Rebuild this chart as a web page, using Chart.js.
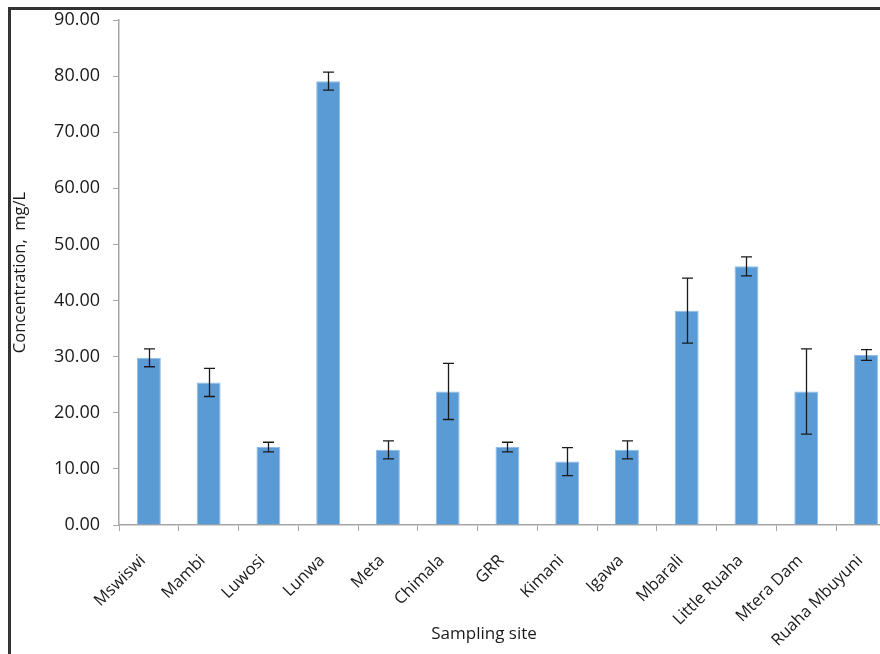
<!DOCTYPE html>
<html>
<head>
<meta charset="utf-8">
<script src="https://cdn.jsdelivr.net/npm/chart.js@4.4.0/dist/chart.umd.min.js"></script>
<style>
  body { margin: 0; background: #fff; overflow: hidden; }
  #wrap { position: absolute; left: 0; top: 0; width: 900px; height: 654px; }
  #frame { position: absolute; left: 8px; top: 7px; width: 1000px; height: 1000px;
           border-left: 3px solid #333; border-top: 3px solid #333; pointer-events: none; }
</style>
</head>
<body>
<div id="wrap"><canvas id="myChart" width="900" height="654"></canvas></div>
<div id="frame"></div>
<script>
// sampling sites and mean concentration (mg/L) with +/- error
const sites = ["Mswiswi", "Mambi", "Luwosi", "Lunwa", "Meta", "Chimala", "GRR", "Kimani",
  "Igawa", "Mbarali", "Little Ruaha", "Mtera Dam", "Ruaha Mbuyuni"];
const concentration = [29.8, 25.4, 13.9, 79.1, 13.4, 23.8, 13.9, 11.3, 13.4, 38.2, 46.1, 23.8, 30.3];
const errors = [1.6, 2.5, 0.85, 1.6, 1.6, 5.0, 0.85, 2.5, 1.6, 5.8, 1.7, 7.6, 0.95];
const yTicks = [0, 10, 20, 30, 40, 50, 60, 70, 80, 90];

const FONT = "'Open Sans', Lato, sans-serif";
const TEXT = "#1a1a1a";

// draws the error bars using the chart's own scales
const errorBars = {
  id: "errorBars",
  afterDatasetsDraw(chart) {
    const ctx = chart.ctx;
    const y = chart.scales.y;
    const meta = chart.getDatasetMeta(0);
    ctx.save();
    ctx.strokeStyle = "#1a1a1a";
    ctx.lineWidth = 1.3;
    meta.data.forEach((bar, i) => {
      const v = concentration[i], e = errors[i];
      const yTop = y.getPixelForValue(v + e);
      const yBot = y.getPixelForValue(v - e);
      const x = Math.round(bar.x) + 0.5;
      ctx.beginPath();
      ctx.moveTo(x, yTop); ctx.lineTo(x, yBot);
      ctx.moveTo(x - 5.5, yTop); ctx.lineTo(x + 5.5, yTop);
      ctx.moveTo(x - 5.5, yBot); ctx.lineTo(x + 5.5, yBot);
      ctx.stroke();
    });
    ctx.restore();
  }
};

// x axis title, centred a bit left of the (cropped) plot area like the original
const xTitle = {
  id: "xTitle",
  afterDraw(chart) {
    const ctx = chart.ctx;
    const a = chart.chartArea;
    ctx.save();
    ctx.font = "17px " + FONT;
    ctx.fillStyle = TEXT;
    ctx.textAlign = "center";
    ctx.textBaseline = "middle";
    ctx.fillText("Sampling site", a.left + 365, chart.height - 20);
    ctx.restore();
  }
};

const ctx = document.getElementById("myChart").getContext("2d");
const myChart = new Chart(ctx, {
  type: "bar",
  data: {
    labels: sites,
    datasets: [{
      data: concentration,
      backgroundColor: "#5b9bd5",
      borderColor: "#8fbbe6",
      borderWidth: 1,
      barPercentage: 0.4,
      categoryPercentage: 1.0,
    }],
  },
  options: {
    responsive: false,
    animation: false,
    layout: { padding: { left: 10, top: 20, right: 0, bottom: 8 } },
    plugins: { legend: { display: false }, tooltip: { enabled: false } },
    scales: {
      x: {
        grid: { display: true, drawOnChartArea: false, offset: true, color: "#a6a6a6", tickLength: 6 },
        border: { color: "#a6a6a6", width: 1.5 },
        ticks: { color: TEXT, font: { family: FONT, size: 16.5 }, minRotation: 45, maxRotation: 45,
                 autoSkip: false, padding: 20, labelOffset: -6 },
        afterFit(scale) { scale.height = 121; },
      },
      y: {
        min: 0,
        max: 90,
        afterBuildTicks(scale) { scale.ticks = yTicks.map(v => ({ value: v })); },
        grid: { display: true, drawOnChartArea: false, color: "#a6a6a6", tickLength: 6 },
        border: { color: "#a6a6a6", width: 1.5 },
        ticks: { color: TEXT, font: { family: FONT, size: 18 }, padding: 13, callback: v => v.toFixed(2) },
        title: { display: true, text: "Concentration,  mg/L", color: TEXT, font: { family: FONT, size: 16.5 }, padding: { top: 0, bottom: 2 } },
        afterFit(scale) { scale.width = 109; scale.paddingTop = 0; scale.paddingBottom = 0; },
      },
    },
  },
  plugins: [errorBars, xTitle],
});
</script>
</body>
</html>
